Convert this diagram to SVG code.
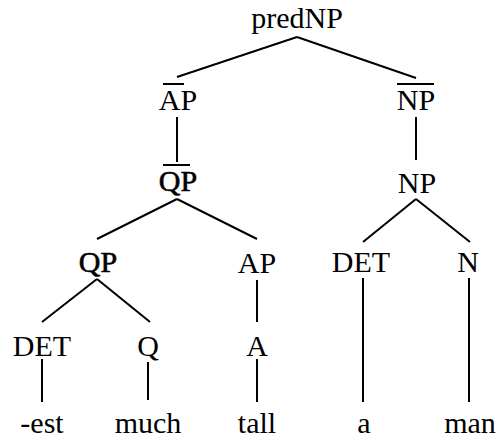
<svg xmlns="http://www.w3.org/2000/svg" width="502" height="442" viewBox="0 0 502 442">
  <style>
    svg text, text.lbl { font-family: "Liberation Serif", "Times New Roman", serif !important; font-size: 30px; text-anchor: middle; fill: #000; }
    text.heavy { stroke: #000; stroke-width: 0.6px; }
  </style>
  <rect width="502" height="442" fill="#fff"/>

  <!-- tree branches -->
  <g id="connectors" stroke="#000" stroke-width="2" fill="none">
    <line x1="297" y1="37" x2="177" y2="77"/>
    <line x1="297" y1="37" x2="416" y2="78"/>
    <line x1="177" y1="117" x2="177" y2="162"/>
    <line x1="416" y1="117" x2="416" y2="160"/>
    <line x1="177" y1="199" x2="97" y2="239"/>
    <line x1="177" y1="199" x2="257" y2="239"/>
    <line x1="416" y1="199" x2="363" y2="242"/>
    <line x1="416" y1="199" x2="470" y2="242"/>
    <line x1="97" y1="279" x2="42" y2="322"/>
    <line x1="97" y1="279" x2="150" y2="322"/>
    <line x1="42" y1="359" x2="42" y2="402"/>
    <line x1="148" y1="362" x2="148" y2="400"/>
    <line x1="257" y1="280" x2="257" y2="322"/>
    <line x1="257" y1="359" x2="257" y2="402"/>
    <line x1="363" y1="278" x2="363" y2="402"/>
    <line x1="469" y1="278" x2="469" y2="402"/>
  </g>

  <g id="predNP"><text class="lbl" font-family="Liberation Serif" style="font-family:'Liberation Serif',serif !important" x="297" y="28">predNP</text></g>
  <g id="APbar">
    <line stroke="#000" stroke-width="2" x1="163" y1="84" x2="184" y2="84"/>
    <text class="lbl" font-family="Liberation Serif" style="font-family:'Liberation Serif',serif !important" x="178" y="110">AP</text>
  </g>
  <g id="NPbar">
    <line stroke="#000" stroke-width="2" x1="397" y1="84" x2="434" y2="84"/>
    <text class="lbl" font-family="Liberation Serif" style="font-family:'Liberation Serif',serif !important" x="416" y="110">NP</text>
  </g>
  <g id="QPbar">
    <line stroke="#000" stroke-width="2" x1="163" y1="165" x2="190" y2="165"/>
    <text class="lbl heavy" font-family="Liberation Serif" style="font-family:'Liberation Serif',serif !important" x="178" y="191">QP</text>
  </g>
  <g id="NP"><text class="lbl" font-family="Liberation Serif" style="font-family:'Liberation Serif',serif !important" x="417" y="193">NP</text></g>
  <g id="QP"><text class="lbl heavy" font-family="Liberation Serif" style="font-family:'Liberation Serif',serif !important" x="98" y="272">QP</text></g>
  <g id="AP"><text class="lbl" font-family="Liberation Serif" style="font-family:'Liberation Serif',serif !important" x="257" y="273">AP</text></g>
  <g id="DET2"><text class="lbl" font-family="Liberation Serif" style="font-family:'Liberation Serif',serif !important" x="361" y="272">DET</text></g>
  <g id="N"><text class="lbl" font-family="Liberation Serif" style="font-family:'Liberation Serif',serif !important" x="468" y="272">N</text></g>
  <g id="DET1"><text class="lbl" font-family="Liberation Serif" style="font-family:'Liberation Serif',serif !important" x="42" y="356">DET</text></g>
  <g id="Q"><text class="lbl" font-family="Liberation Serif" style="font-family:'Liberation Serif',serif !important" x="148" y="356">Q</text></g>
  <g id="A"><text class="lbl" font-family="Liberation Serif" style="font-family:'Liberation Serif',serif !important" x="257" y="356">A</text></g>
  <g id="est"><text class="lbl" font-family="Liberation Serif" style="font-family:'Liberation Serif',serif !important" x="42" y="433">-est</text></g>
  <g id="much"><text class="lbl" font-family="Liberation Serif" style="font-family:'Liberation Serif',serif !important" x="148" y="433">much</text></g>
  <g id="tall"><text class="lbl" font-family="Liberation Serif" style="font-family:'Liberation Serif',serif !important" x="257" y="433">tall</text></g>
  <g id="a"><text class="lbl" font-family="Liberation Serif" style="font-family:'Liberation Serif',serif !important" x="364" y="433">a</text></g>
  <g id="man"><text class="lbl" font-family="Liberation Serif" style="font-family:'Liberation Serif',serif !important" x="470" y="433">man</text></g>
</svg>
